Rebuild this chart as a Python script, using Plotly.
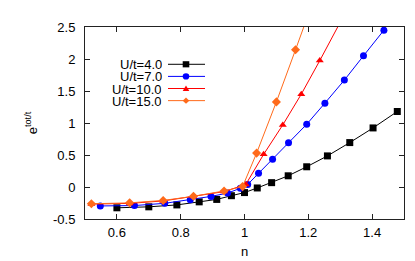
import plotly.graph_objects as go

# ---- data ----
n_u4 = [0.6, 0.7, 0.788, 0.858, 0.913, 0.959, 1.0, 1.04, 1.085, 1.137, 1.195, 1.26, 1.33, 1.403, 1.479]
e_u4 = [-0.325, -0.31, -0.28, -0.232, -0.194, -0.136, -0.087, -0.015, 0.068, 0.175, 0.316, 0.486, 0.694, 0.923, 1.18]

n_u7 = [0.548, 0.655, 0.75, 0.83, 0.895, 0.947, 0.987, 1.01, 1.044, 1.088, 1.138, 1.195, 1.252, 1.313, 1.373, 1.437]
e_u7 = [-0.296, -0.29, -0.255, -0.2, -0.147, -0.095, -0.02, 0.04, 0.214, 0.432, 0.69, 0.98, 1.31, 1.67, 2.05, 2.45]

n_u10 = [0.52, 0.64, 0.745, 0.84, 0.936, 1.004, 1.06, 1.12, 1.178, 1.236, 1.352]
e_u10 = [-0.267, -0.256, -0.218, -0.15, -0.072, 0.04, 0.51, 0.97, 1.45, 1.975, 3.06]

n_u15 = [0.52, 0.64, 0.745, 0.84, 0.936, 0.994, 1.038, 1.1, 1.16, 1.22]
e_u15 = [-0.262, -0.248, -0.21, -0.145, -0.062, 0.006, 0.53, 1.33, 2.145, 2.97]

labels = ["U/t=4.0", "U/t=7.0", "U/t=10.0", "U/t=15.0"]
colors = ["#000000", "#0000ff", "#ff0000", "#ff6a1a"]
symbols = ["square", "circle", "triangle-up", "diamond"]
msizes = [7, 7, 7, 7]

x_ticks = [0.6, 0.8, 1.0, 1.2, 1.4]
x_ticktext = ["0.6", "0.8", "1", "1.2", "1.4"]
y_ticks = [-0.5, 0, 0.5, 1, 1.5, 2, 2.5]
y_ticktext = ["-0.5", "0", "0.5", "1", "1.5", "2", "2.5"]

xs = [n_u4, n_u7, n_u10, n_u15]
ys = [e_u4, e_u7, e_u10, e_u15]

FONT = "Liberation Sans, Arial, sans-serif"
FS = 13

W, H = 415, 261
L, R, T, B = 77, 19, 14, 41

fig = go.Figure()
for x, y, c, s, ms, lab in zip(xs, ys, colors, symbols, msizes, labels):
    fig.add_trace(go.Scatter(
        x=x, y=y, mode="lines+markers", name=lab,
        line=dict(color=c, width=1),
        marker=dict(symbol=s, size=ms, color=c, line=dict(width=0)),
        showlegend=False,
    ))

# gnuplot-style legend: text on left, sample on right
pw = W - L - R
ph = H - T - B
def px2paper(px, py):
    return (px - L) / pw, (H - B - py) / ph

legend_rows = [54, 67, 80, 93]
for lab, c, s, row in zip(labels, colors, symbols, legend_rows):
    tx, ty = px2paper(155, row)
    fig.add_annotation(x=tx, y=ty, xref="paper", yref="paper", text=lab,
                       showarrow=False, xanchor="right", yanchor="middle",
                       height=12, borderpad=0,
                       font=dict(size=FS, color="black", family=FONT))
    x0, y0 = px2paper(160, row)
    x1, _ = px2paper(197, row)
    fig.add_shape(type="line", xref="paper", yref="paper", x0=x0, x1=x1, y0=y0, y1=y0,
                  line=dict(color=c, width=1))
    cx, cy = px2paper(178, row)
    hx = 3.3 / pw
    hy = 3.3 / ph
    if s == "square":
        fig.add_shape(type="rect", xref="paper", yref="paper", x0=cx - hx, x1=cx + hx,
                      y0=cy - hy, y1=cy + hy, fillcolor=c, line=dict(width=0))
    elif s == "circle":
        fig.add_shape(type="circle", xref="paper", yref="paper", x0=cx - hx, x1=cx + hx,
                      y0=cy - hy, y1=cy + hy, fillcolor=c, line=dict(width=0))
    elif s == "triangle-up":
        fig.add_shape(type="path", xref="paper", yref="paper",
                      path=f"M {cx - hx} {cy - hy*0.8} L {cx + hx} {cy - hy*0.8} L {cx} {cy + hy} Z",
                      fillcolor=c, line=dict(width=0))
    else:
        fig.add_shape(type="path", xref="paper", yref="paper",
                      path=f"M {cx - hx} {cy} L {cx} {cy + hy} L {cx + hx} {cy} L {cx} {cy - hy} Z",
                      fillcolor=c, line=dict(width=0))

axis_common = dict(
    showline=True, linecolor="#222222", linewidth=1, mirror="allticks",
    ticks="inside", ticklen=5, tickcolor="#222222", tickwidth=1,
    showgrid=False, zeroline=False,
    tickfont=dict(size=FS, color="black", family=FONT),
)

fig.update_xaxes(range=[0.5, 1.5], tickvals=x_ticks, ticktext=x_ticktext,
                 title=dict(text="n", standoff=8,
                            font=dict(size=FS, color="black", family=FONT)),
                 ticklabelstandoff=1, **axis_common)
fig.update_yaxes(range=[-0.5, 2.5], tickvals=y_ticks, ticktext=y_ticktext,
                 title=dict(text="e<sup>tot/t</sup>", standoff=12,
                            font=dict(size=FS, color="black", family=FONT)),
                 ticklabelstandoff=6, **axis_common)

fig.update_layout(
    width=W, height=H,
    margin=dict(l=L, r=R, t=T, b=B, pad=0),
    plot_bgcolor="white", paper_bgcolor="white",
    showlegend=False,
)

fig.write_html("out.html")
